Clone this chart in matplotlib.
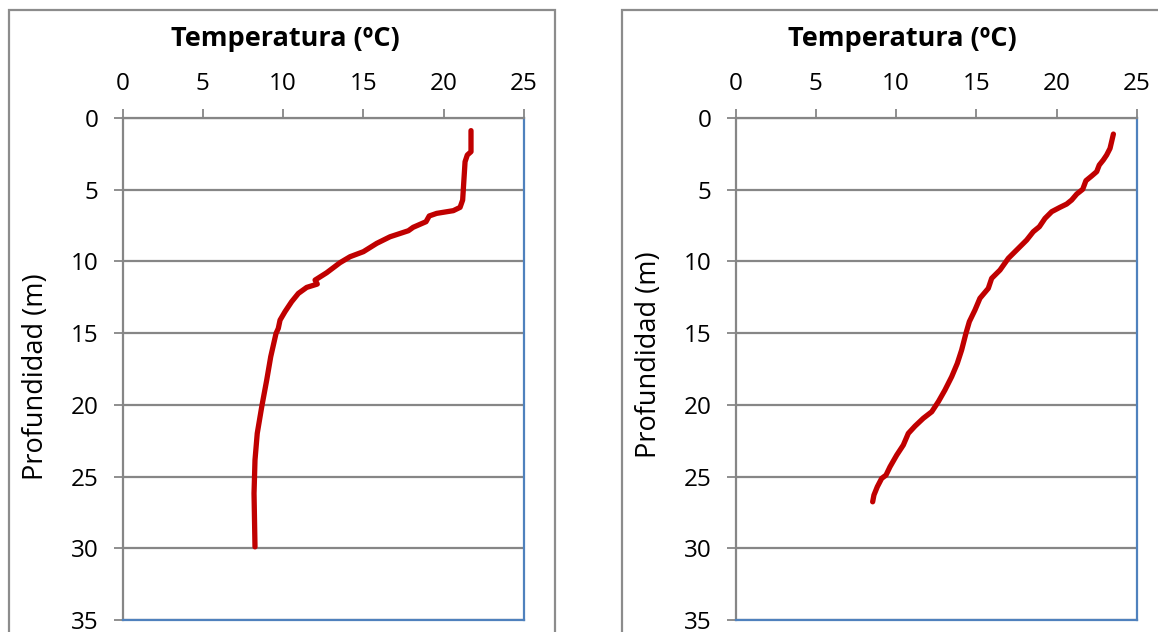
import matplotlib
matplotlib.use("Agg")
import matplotlib.pyplot as plt
from matplotlib.patches import Rectangle
from matplotlib.ticker import MultipleLocator

# Perfil 1: termoclina marcada
temp_1 = [21.70, 21.70, 21.47, 21.33, 21.18, 21.02, 20.60, 19.56, 19.10, 18.90,
          18.10, 17.80, 16.66, 15.83, 15.00, 14.17, 13.54, 12.71, 11.99, 12.13,
          11.47, 10.95, 10.53, 10.12, 9.81, 9.70, 9.56, 9.23, 8.98, 8.67,
          8.39, 8.25, 8.19, 8.25]
prof_1 = [0.88, 2.35, 2.58, 3.05, 5.72, 6.23, 6.46, 6.65, 6.83, 7.23,
          7.62, 7.86, 8.28, 8.74, 9.32, 9.67, 10.09, 10.79, 11.30, 11.58,
          11.81, 12.23, 12.81, 13.50, 14.09, 14.67, 15.02, 16.64, 18.27, 20.13,
          21.99, 23.85, 26.17, 29.90]

# Perfil 2: gradiente continuo
temp_2 = [23.53, 23.42, 23.32, 23.11, 22.90, 22.65, 22.49, 22.18, 21.82, 21.62,
          21.25, 20.93, 20.62, 20.20, 19.69, 19.27, 18.92, 18.54, 18.13, 17.61,
          16.99, 16.47, 15.95, 15.74, 15.22, 14.91, 14.56, 14.35, 14.08, 13.81,
          13.46, 13.04, 12.63, 12.22, 11.69, 11.18, 10.76, 10.45, 10.04, 9.62,
          9.37, 9.10, 8.83, 8.62, 8.54]
prof_2 = [1.12, 1.65, 2.12, 2.58, 2.93, 3.28, 3.74, 4.04, 4.37, 4.97,
          5.30, 5.72, 6.00, 6.23, 6.53, 7.00, 7.58, 7.93, 8.51, 9.09,
          9.78, 10.60, 11.18, 11.88, 12.57, 13.39, 14.20, 15.01, 16.18, 17.11,
          18.04, 18.97, 19.78, 20.48, 20.94, 21.48, 21.99, 22.80, 23.50, 24.32,
          24.90, 25.13, 25.71, 26.29, 26.76]

W, H = 1158, 632
GRAY = '#868686'
BLUE = '#4F81BD'
RED = '#C00000'

plt.rcParams['font.family'] = ['Open Sans', 'DejaVu Sans']

fig = plt.figure(figsize=(W / 100, H / 100), dpi=100)


def px(x0, y0, x1, y1):
    # pixel box -> figure fraction [left, bottom, width, height]
    return [x0 / W, 1 - y1 / H, (x1 - x0) / W, (y1 - y0) / H]


def panel(rect, box, temp, prof, title_x, ylab_y):
    fig.add_artist(Rectangle((box[0] / W, 1 - box[3] / H), (box[2] - box[0]) / W,
                             (box[3] - box[1]) / H, transform=fig.transFigure,
                             fill=False, edgecolor='#8C8C8C', linewidth=1.6))
    ax = fig.add_axes(px(*rect))
    ax.plot(temp, prof, color=RED, linewidth=3.8, solid_capstyle='round',
            solid_joinstyle='round', zorder=3)
    ax.set_xlim(0, 25)
    ax.set_ylim(35, 0)
    ax.xaxis.set_major_locator(MultipleLocator(5))
    ax.yaxis.set_major_locator(MultipleLocator(5))
    ax.xaxis.tick_top()
    ax.grid(axis='y', color=GRAY, linewidth=1.6)
    ax.set_axisbelow(True)
    for s in ('top', 'left'):
        ax.spines[s].set_color(GRAY)
        ax.spines[s].set_linewidth(1.6)
    for s in ('bottom', 'right'):
        ax.spines[s].set_color(BLUE)
        ax.spines[s].set_linewidth(1.6)
    ax.tick_params(axis='x', direction='out', length=6.5, width=1.3, color=GRAY,
                   pad=9, labelsize=17.5)
    ax.tick_params(axis='y', direction='out', length=6.5, width=1.3, color=GRAY,
                   pad=11, labelsize=17.5)
    fig.text(title_x / W, 1 - 46 / H, 'Temperatura (ºC)', ha='center', va='baseline',
             fontsize=19.5, fontweight='bold')
    fig.text((rect[0] - 86) / W, 1 - ylab_y / H, 'Profundidad (m)', ha='center',
             va='center', rotation=90, fontsize=19.5)
    return ax


panel((122.5, 118, 524, 620), (9, 10, 555, 660), temp_1, prof_1, 285, 377)
panel((735.5, 118, 1137, 620), (622, 10, 1190, 660), temp_2, prof_2, 902, 355)

fig.savefig('out.png', dpi=100)
